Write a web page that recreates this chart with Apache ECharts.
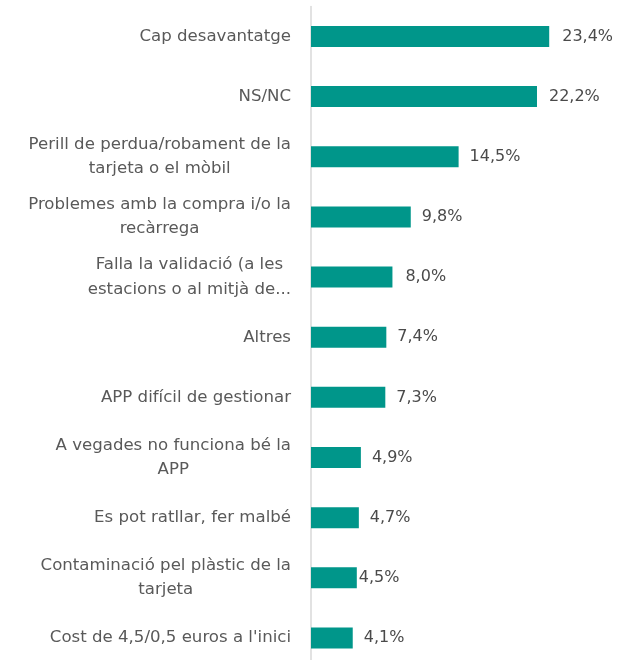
<!DOCTYPE html>
<html>
<head>
<meta charset="utf-8">
<script src="https://cdn.jsdelivr.net/npm/echarts@6/dist/echarts.min.js"></script>
<style>html,body{margin:0;padding:0;background:#fff}#c{width:621px;height:660px}</style>
</head>
<body>
<div id="c"></div>
<script>
var categories = [
  'Cap desavantatge',
  'NS/NC',
  'Perill de perdua/robament de la\ntarjeta o el mòbil',
  'Problemes amb la compra i/o la\nrecàrrega',
  'Falla la validació (a les\nestacions o al mitjà de...',
  'Altres',
  'APP difícil de gestionar',
  'A vegades no funciona bé la\nAPP',
  'Es pot ratllar, fer malbé',
  'Contaminació pel plàstic de la\ntarjeta',
  "Cost de 4,5/0,5 euros a l'inici"
];
var values = [23.4, 22.2, 14.5, 9.8, 8.0, 7.4, 7.3, 4.9, 4.7, 4.5, 4.1];
var labelGaps = [13, 12, 11, 11, 13, 11, 11, 11, 11, 2, 11];

var FONT = '"DejaVu Sans", sans-serif';
var chart = echarts.init(document.getElementById('c'));
chart.setOption({
  animation: false,
  grid: { left: 311, right: 4.6, top: 6.4, bottom: -8, containLabel: false, outerBoundsMode: 'none' },
  xAxis: { type: 'value', min: 0, max: 30, show: false, splitLine: { show: false } },
  yAxis: {
    type: 'category',
    inverse: true,
    data: categories,
    axisLine: { show: true, lineStyle: { color: '#d9d9d9', width: 1.5 } },
    axisTick: { show: false },
    axisLabel: {
      margin: 20,
      align: 'right',
      formatter: function (v) {
        return v.split('\n').map(function (l) { return '{c|' + l + '}'; }).join('\n');
      },
      rich: {
        c: { align: 'center', fontFamily: FONT, fontSize: 16.6, color: '#595959', lineHeight: 24.5 }
      }
    }
  },
  series: [{
    type: 'bar',
    barWidth: 21,
    itemStyle: { color: '#00968a' },
    data: values.map(function (v, i) {
      return { value: v, label: { distance: labelGaps[i] } };
    }),
    label: {
      show: true,
      position: 'right',
      fontFamily: FONT,
      fontSize: 16,
      color: '#4a4a4a',
      formatter: function (p) { return p.value.toFixed(1).replace('.', ',') + '%'; }
    }
  }]
});
</script>
</body>
</html>
